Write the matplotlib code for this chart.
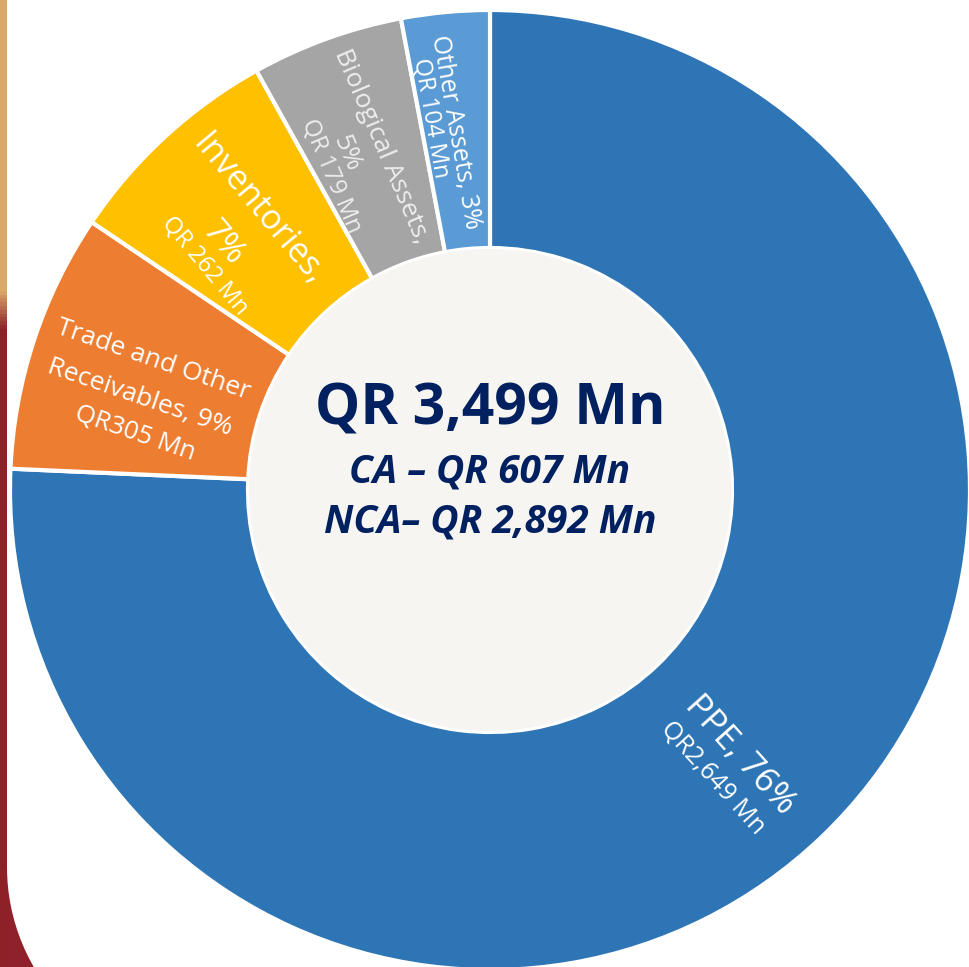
import numpy as np
import matplotlib.pyplot as plt
from matplotlib.patches import Circle, Rectangle

# asset breakdown, QR Mn (clockwise from 12 o'clock)
segments = ['PPE', 'Trade and Other Receivables', 'Inventories', 'Biological Assets', 'Other Assets']
values = [2649, 305, 262, 179, 104]
colors = ['#2e75b6', '#ed7d31', '#ffc000', '#a5a5a5', '#5b9bd5']

total_label = 'QR 3,499 Mn'
ca_label = 'CA – QR 607 Mn'
nca_label = 'NCA– QR 2,892 Mn'

W, H = 969, 967
CX, CY = 490, 490          # ring centre in image pixels
R_OUT, R_IN = 480, 242


def Y(y):
    # image row -> axes y
    return H - y


fig = plt.figure(figsize=(W / 100, H / 100), dpi=100)
fig.patch.set_facecolor('#8e2129')
ax = fig.add_axes([0, 0, 1, 1])

# slide background: tan->red strip on the left, white panel with rounded corner
grad = np.linspace(0, 1, 256).reshape(-1, 1)
strip = np.zeros((256, 1, 3))
c_top = np.array([0.86, 0.66, 0.42])
c_bot = np.array([0.56, 0.13, 0.16])
w = np.clip((grad - 0.30) / 0.04, 0, 1)
strip[:, 0, :] = c_top * (1 - w) + c_bot * w
ax.imshow(strip, extent=[0, 8, 0, H], origin='upper', aspect='auto', zorder=0)
ax.add_patch(Rectangle((7, 100), W, H, fc='white', ec='none', zorder=1))
ax.add_patch(Rectangle((207, -10), W, 120, fc='white', ec='none', zorder=1))
ax.add_patch(Circle((207, 100), 200, fc='white', ec='none', zorder=1))

ax.pie(values, colors=colors, startangle=90, counterclock=False,
       center=(CX, Y(CY)), radius=R_OUT, frame=True,
       wedgeprops=dict(width=R_OUT - R_IN, edgecolor='white', linewidth=3, zorder=2))
ax.add_patch(Circle((CX, Y(CY)), R_IN - 1, fc='#f7f5f2', ec='none', zorder=3))
ax.set_xlim(0, W)
ax.set_ylim(0, H)
ax.set_aspect('equal')
ax.axis('off')

font = 'Open Sans'
navy = '#002060'
ax.text(CX, Y(410), total_label, ha='center', va='center', fontsize=41,
        fontweight='bold', color=navy, family=font, zorder=5)
ax.text(CX, Y(472), ca_label, ha='center', va='center', fontsize=28,
        fontweight='bold', style='italic', color=navy, family=font, zorder=5)
ax.text(CX, Y(522), nca_label, ha='center', va='center', fontsize=28,
        fontweight='bold', style='italic', color=navy, family=font, zorder=5)

# wedge labels: (text, x, y, rotation, size, colour)
labels = [
    ('PPE, 76%', 740, 755, -48, 25, 'white'),
    ('QR2,649 Mn', 713, 778, -48, 18, 'white'),
    ('Trade and Other', 153, 360, -19, 19, 'white'),
    ('Receivables, 9%', 140, 398, -19, 19, 'white'),
    ('QR305 Mn', 135, 434, -19, 18.5, 'white'),
    ('Inventories,', 258, 210, -50, 24.5, 'white'),
    ('7%', 223, 243, -50, 24, 'white'),
    ('QR 262 Mn', 205, 266, -50, 17, 'white'),
    ('Biological Assets,', 381, 146, -67, 19, '#ededed'),
    ('5%', 347, 153, -67, 19, '#ededed'),
    ('QR 179 Mn', 331, 176, -67, 17, '#ededed'),
    ('Other Assets, 3%', 455, 132, -80, 18, 'white'),
    ('QR 104 Mn', 430, 118, -80, 17, 'white'),
]
for txt, x, y, rot, fs, col in labels:
    ax.text(x, Y(y), txt, ha='center', va='center', rotation=rot,
            rotation_mode='anchor', fontsize=fs, color=col, family=font, zorder=5)

fig.savefig('out.png', dpi=100, facecolor=fig.get_facecolor())
